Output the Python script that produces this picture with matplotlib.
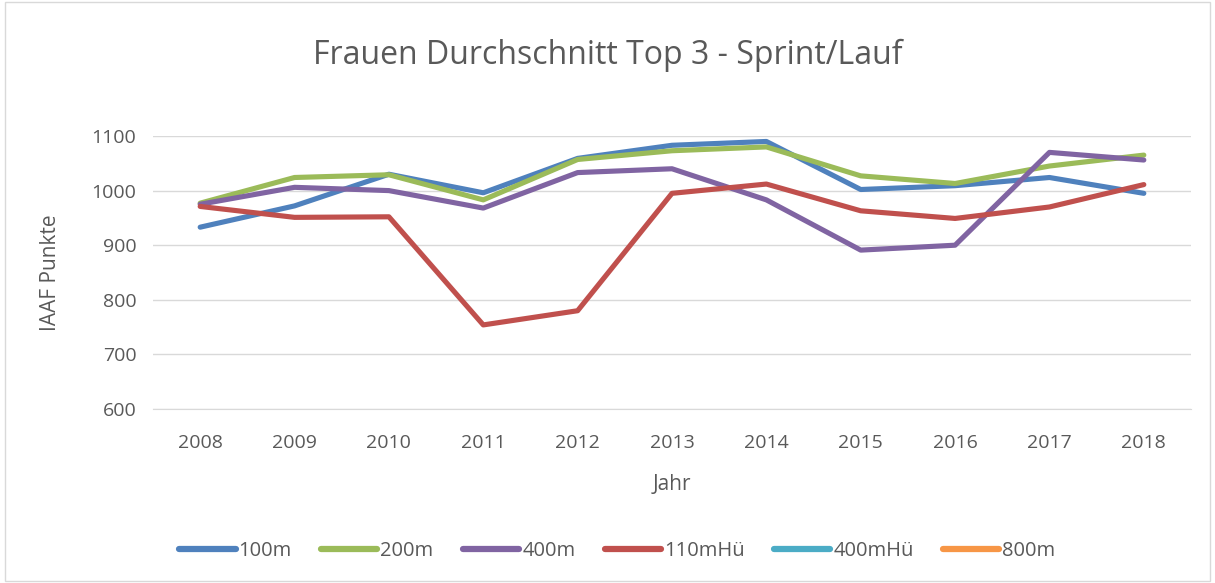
import numpy as np
import matplotlib
matplotlib.use("Agg")
import matplotlib.pyplot as plt
from matplotlib.patches import FancyBboxPatch

plt.rcParams['font.family'] = ['Open Sans', 'DejaVu Sans']

years = ['2008', '2009', '2010', '2011', '2012', '2013', '2014', '2015', '2016', '2017', '2018']
m100 = [933, 972, 1030, 996, 1059, 1083, 1090, 1002, 1009, 1024, 995]
m200 = [977, 1024, 1029, 983, 1057, 1073, 1080, 1027, 1013, 1045, 1065]
m400 = [975, 1006, 1000, 968, 1033, 1040, 983, 891, 900, 1070, 1056]
m110h = [971, 951, 952, 754, 780, 995, 1012, 963, 949, 970, 1011]
m400h = [np.nan] * 11
m800 = [np.nan] * 11

series = ['100m', '200m', '400m', '110mHü', '400mHü', '800m']
colors = ['#4F81BD', '#9BBB59', '#8064A2', '#C0504D', '#4BACC6', '#F79646']
values = [m100, m200, m400, m110h, m400h, m800]

txt = '#595959'

fig = plt.figure(figsize=(12.15, 5.83), dpi=100)
fig.patches.append(FancyBboxPatch((0.004, 0.004), 0.992, 0.992, boxstyle='square,pad=0',
                                  transform=fig.transFigure, fill=False,
                                  edgecolor='#D9D9D9', linewidth=1))
ax = fig.add_axes([153 / 1215, 1 - 409 / 583, (1191 - 153) / 1215, (409 - 136) / 583])

x = np.arange(len(years))
for name, vals, c in zip(series, values, colors):
    ax.plot(x, vals, color=c, linewidth=3.7, label=name, solid_capstyle='round',
            solid_joinstyle='round')

ax.set_xlim(-0.5, len(years) - 0.5)
ax.set_ylim(600, 1100)
ax.set_yticks(range(600, 1101, 100))
ax.set_xticks(x)
ax.set_xticklabels(years)
ax.grid(axis='y', color='#D9D9D9', linewidth=1)
ax.set_axisbelow(True)
for s in ['top', 'right', 'left']:
    ax.spines[s].set_visible(False)
ax.spines['bottom'].set_color('#D9D9D9')
ax.tick_params(length=0, labelsize=14, colors=txt)
ax.tick_params(axis='x', pad=18)
ax.tick_params(axis='y', pad=12)

ax.set_xlabel('Jahr', fontsize=15, color=txt, labelpad=16)
ax.set_ylabel('IAAF Punkte', fontsize=15, color=txt, labelpad=22)
fig.text(0.5, 1 - 55 / 583, 'Frauen Durchschnitt Top 3 - Sprint/Lauf', ha='center', va='center',
         fontsize=23, color=txt)

leg = fig.legend(loc='center', bbox_to_anchor=(0.508, 1 - 551 / 583), ncol=6, frameon=False,
                 fontsize=14.5, handlelength=2.8, handletextpad=0.15, columnspacing=1.45)
for t in leg.get_texts():
    t.set_color(txt)
for h in leg.get_lines():
    h.set_linewidth(4.5)

fig.savefig('out.png', dpi=100)
